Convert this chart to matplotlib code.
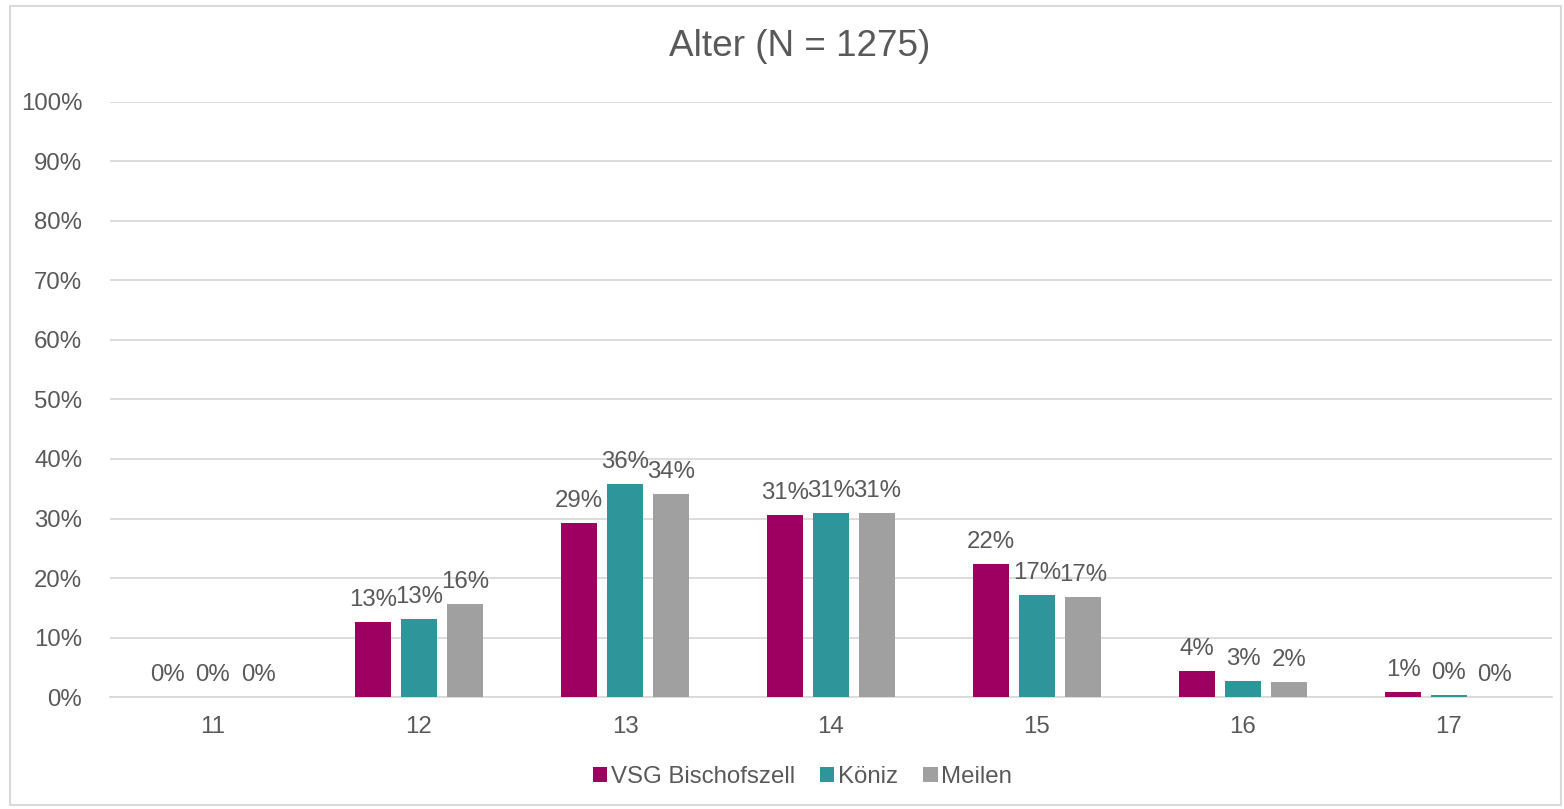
import matplotlib
import matplotlib.pyplot as plt
from matplotlib.patches import Rectangle
import numpy as np

matplotlib.use("Agg")

plt.rcParams["font.family"] = ["Liberation Sans", "DejaVu Sans"]

ages = ["11", "12", "13", "14", "15", "16", "17"]
vsg = [0.0, 12.6, 29.2, 30.6, 22.4, 4.4, 0.8]
koeniz = [0.0, 13.1, 35.8, 30.9, 17.1, 2.7, 0.4]
meilen = [0.0, 15.6, 34.1, 30.9, 16.8, 2.5, 0.0]
series_names = ["VSG Bischofszell", "Köniz", "Meilen"]
colors = ["#9E0062", "#2E969B", "#A0A0A0"]

text_col = "#595959"
grid_col = "#D9D9D9"
fs = 17.3

fig = plt.figure(figsize=(15.64, 8.09), dpi=100)
ax = fig.add_axes([0.0703, 0.1384, 0.9220, 0.7356])

x = np.arange(len(ages))
offset = 0.223
width = 0.174
for i, (vals, name, col) in enumerate(zip([vsg, koeniz, meilen], series_names, colors)):
    pos = x + (i - 1) * offset
    ax.bar(pos, vals, width=width, color=col, label=name, zorder=3)
    for px, v in zip(pos, vals):
        ax.annotate(f"{round(v):.0f}%", (px, v), xytext=(0, 8), textcoords="offset points",
                    ha="center", va="bottom", fontsize=fs, color=text_col)

ax.set_xlim(-0.5, len(ages) - 0.5)
ax.set_ylim(0, 100)
ax.set_yticks(range(0, 101, 10))
ax.set_yticklabels([f"{t}%" for t in range(0, 101, 10)])
ax.set_xticks(x)
ax.set_xticklabels(ages)
ax.tick_params(axis="both", length=0, labelsize=fs, colors=text_col)
ax.tick_params(axis="y", pad=20)
ax.tick_params(axis="x", pad=14)
ax.yaxis.grid(True, color=grid_col, linewidth=1.3, zorder=0)
for side in ["top", "right", "left"]:
    ax.spines[side].set_visible(False)
ax.spines["bottom"].set_color(grid_col)
ax.spines["bottom"].set_linewidth(1.3)

fig.text(0.511, 0.942, "Alter (N = 1275)", ha="center", va="center", fontsize=26.6, color=text_col)

fig.legend(loc="center", bbox_to_anchor=(0.513, 0.040), ncol=3, frameon=False,
           fontsize=fs, labelcolor=text_col, handlelength=0.6, handleheight=0.6,
           handletextpad=0.15, columnspacing=1.05)

fig.patches.append(Rectangle((0.0064, 0.005), 0.9916, 0.9876, transform=fig.transFigure,
                             fill=False, edgecolor=grid_col, linewidth=1.5))

fig.savefig("out.png", dpi=100)
